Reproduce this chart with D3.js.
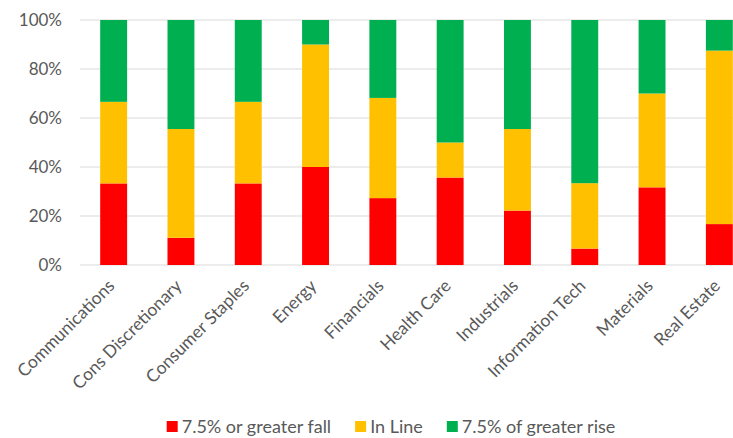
<!DOCTYPE html>
<html>
<head>
    <meta charset="utf-8">
    <title>Sector stacked 100% bars</title>
    <script src="https://cdn.jsdelivr.net/npm/d3@7"></script>
    <style>
        body { margin: 0; background: #fff; }
        svg text { font-family: Lato, "Open Sans", sans-serif; fill: #595959; }
    </style>
</head>
<body>
    <div id="chart"></div>
    <script>
        const sectors = ["Communications", "Cons Discretionary", "Consumer Staples", "Energy", "Financials",
            "Health Care", "Industrials", "Information Tech", "Materials", "Real Estate"];
        // shares in percent
        const fall = [33.3, 11.1, 33.3, 40, 27.3, 35.7, 22.2, 6.7, 31.7, 16.7];
        const inLine = [33.3, 44.4, 33.3, 50, 40.9, 14.3, 33.3, 26.7, 38.3, 70.8];
        const rise = [33.4, 44.5, 33.4, 10, 31.8, 50, 44.5, 66.6, 30, 12.5];
        const seriesNames = ["7.5% or greater fall", "In Line", "7.5% of greater rise"];
        const colors = ["#ff0000", "#ffc000", "#00b050"];
        const yTicks = [0, 20, 40, 60, 80, 100];

        const width = 733, height = 438;
        const svg = d3.select("#chart").append("svg")
            .attr("width", width)
            .attr("height", height);

        const x = d3.scaleBand()
            .domain(sectors)
            .range([80, 753])
            .paddingInner(0.6)
            .paddingOuter(0.3);

        const y = d3.scaleLinear()
            .domain([0, 100])
            .range([265, 20]);

        // gridlines
        svg.append("g")
            .selectAll("line")
            .data(yTicks)
            .join("line")
            .attr("x1", 80)
            .attr("x2", 753)
            .attr("y1", d => y(d))
            .attr("y2", d => y(d))
            .attr("stroke", "#d9d9d9")
            .attr("stroke-width", 1.2);

        // y axis labels
        const yAxis = svg.append("g")
            .attr("transform", "translate(80,0)")
            .call(d3.axisLeft(y).tickValues(yTicks).tickFormat(d => d + "%").tickSize(0).tickPadding(18));
        yAxis.select(".domain").remove();
        yAxis.selectAll("text")
            .attr("font-size", 17)
            .style("font-family", "Lato, sans-serif")
            .attr("fill", "#595959");

        // stacks
        const table = sectors.map((s, i) => ({ sector: s, fall: fall[i], inLine: inLine[i], rise: rise[i] }));
        const stack = d3.stack().keys(["fall", "inLine", "rise"]);
        const layers = stack(table);

        svg.append("g")
            .selectAll("g")
            .data(layers)
            .join("g")
            .attr("fill", (d, i) => colors[i])
            .selectAll("rect")
            .data(d => d)
            .join("rect")
            .attr("x", d => x(d.data.sector))
            .attr("width", x.bandwidth())
            .attr("y", d => y(Math.min(d[1], 100)))
            .attr("height", d => y(d[0]) - y(Math.min(d[1], 100)));

        // x labels, rotated
        svg.append("g")
            .selectAll("text")
            .data(sectors)
            .join("text")
            .attr("text-anchor", "end")
            .attr("font-size", 17.5)
            .attr("transform", d => `translate(${x(d) + x.bandwidth() / 2 + 2},${287}) rotate(-45)`)
            .text(d => d);

        // legend
        const legend = svg.append("g").attr("transform", "translate(0,433)");
        const items = legend.selectAll("g")
            .data(seriesNames)
            .join("g");
        items.append("rect")
            .attr("y", -12)
            .attr("width", 11)
            .attr("height", 11)
            .attr("fill", (d, i) => colors[i]);
        items.append("text")
            .attr("x", 15)
            .attr("font-size", 18)
            .text(d => d);
        let pos = 0;
        const offsets = [];
        items.each(function () {
            offsets.push(pos);
            const w = 15 + this.querySelector("text").getComputedTextLength();
            pos += w + 24;
        });
        const total = pos - 24;
        const start = 391 - total / 2;
        items.attr("transform", (d, i) => `translate(${start + offsets[i]},0)`);
    </script>
</body>
</html>
